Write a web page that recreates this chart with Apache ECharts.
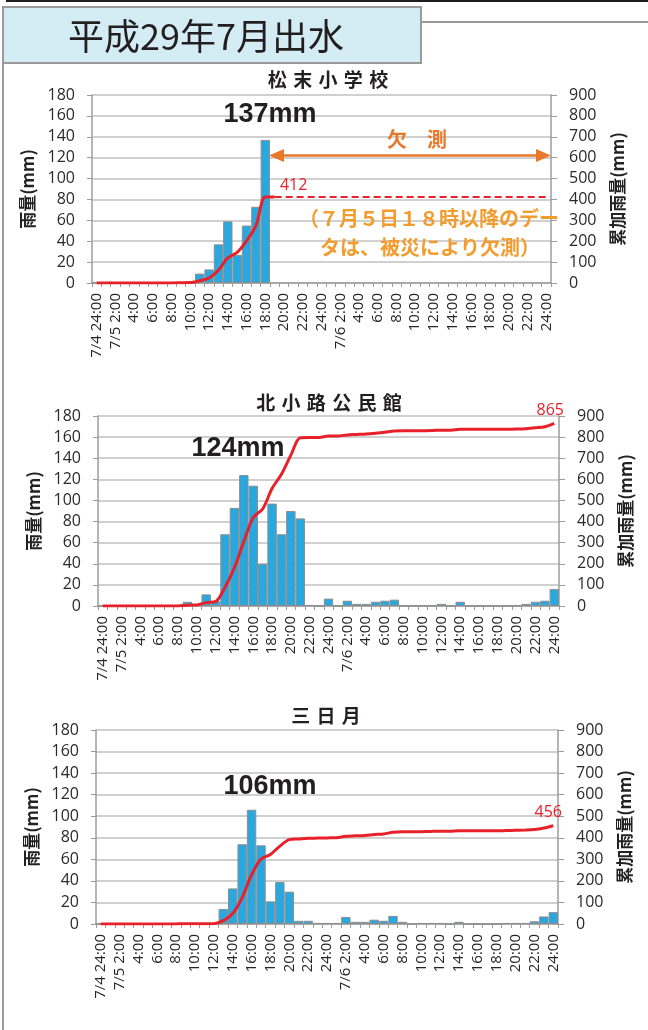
<!DOCTYPE html>
<html>
<head>
<meta charset="utf-8">
<script src="https://cdn.jsdelivr.net/npm/echarts/dist/echarts.min.js"></script>
<style>
html, body { margin: 0; padding: 0; background: #fff; }
#chart { width: 648px; height: 1030px; }
</style>
</head>
<body>
<div id="chart"></div>
<script>
// Hourly categories, 7/4 24:00 through 7/6 24:00
const categories = [
  '7/4 24:00',
  '7/5 1:00','7/5 2:00','7/5 3:00','7/5 4:00','7/5 5:00','7/5 6:00','7/5 7:00','7/5 8:00',
  '7/5 9:00','7/5 10:00','7/5 11:00','7/5 12:00','7/5 13:00','7/5 14:00','7/5 15:00','7/5 16:00',
  '7/5 17:00','7/5 18:00','7/5 19:00','7/5 20:00','7/5 21:00','7/5 22:00','7/5 23:00','7/5 24:00',
  '7/6 1:00','7/6 2:00','7/6 3:00','7/6 4:00','7/6 5:00','7/6 6:00','7/6 7:00','7/6 8:00',
  '7/6 9:00','7/6 10:00','7/6 11:00','7/6 12:00','7/6 13:00','7/6 14:00','7/6 15:00','7/6 16:00',
  '7/6 17:00','7/6 18:00','7/6 19:00','7/6 20:00','7/6 21:00','7/6 22:00','7/6 23:00','7/6 24:00'
];

// Labels shown on every second hour
const tickLabels = [
  '7/4 24:00','7/5 2:00','4:00','6:00','8:00','10:00','12:00','14:00','16:00','18:00','20:00','22:00','24:00',
  '7/6 2:00','4:00','6:00','8:00','10:00','12:00','14:00','16:00','18:00','20:00','22:00','24:00'
];

const leftTicks = { min: 0, max: 180, interval: 20 };
const rightTicks = { min: 0, max: 900, interval: 100 };

// 松末小学校 : hourly rainfall (mm); no data after 7/5 18:00
const rainMatsusue = [
  0,0,0,0,0,0,0,0,0,1,
  1,9,13,37,59,27,55,73,137,null,
  null,null,null,null,null,null,null,null,null,null,
  null,null,null,null,null,null,null,null,null,null,
  null,null,null,null,null,null,null,null,null
];
// 松末小学校 : cumulative rainfall (mm)
const cumMatsusue = [
  0,0,0,0,0,0,0,0,0,1,
  2,11,24,61,120,147,202,275,412,412,
  null,null,null,null,null,null,null,null,null,null,
  null,null,null,null,null,null,null,null,null,null,
  null,null,null,null,null,null,null,null,null
];
// 松末小学校 : last recorded total carried across the missing period
const cumMatsusueMissing = [
  null,null,null,null,null,null,null,null,null,null,
  null,null,null,null,null,null,null,null,null,412,
  412,412,412,412,412,412,412,412,412,412,
  412,412,412,412,412,412,412,412,412,412,
  412,412,412,412,412,412,412,412,412
];

// 北小路公民館 : hourly rainfall (mm)
const rainKitakoji = [
  0,0,0,0,0,0,0,0,0,4,
  1,11,4.5,68,93,124,114,40,97,68,
  90,83,1,0,7,0,5,2,2,4,
  5,6,0.5,0,0.5,0.5,2,0,4,0,
  0,0,0,0.5,0.5,2,4,5,16
];
// 北小路公民館 : cumulative rainfall (mm)
const cumKitakoji = [
  0,0,0,0,0,0,0,0,0,4,
  5,16,20.5,88.5,181.5,305.5,419.5,459.5,556.5,624.5,
  714.5,797.5,798.5,798.5,805.5,805.5,810.5,812.5,814.5,818.5,
  823.5,829.5,830,830,830.5,831,833,833,837,837,
  837,837,837,837.5,838,840,844,849,865
];

// 三日月 : hourly rainfall (mm)
const rainMikazuki = [
  0,0,0,0,0,0,0,0,0.5,0.5,
  0,0,0.5,14,33,74,106,73,21,39,
  30,3,3,1,1,1,6.5,2,2,4,
  3,7.5,2,0,1,1,1,0,2,0,
  0,0,0,1,1,1,2.5,7,11
];
// 三日月 : cumulative rainfall (mm)
const cumMikazuki = [
  0,0,0,0,0,0,0,0,0.5,1,
  1,1,1.5,15.5,48.5,122.5,228.5,301.5,322.5,361.5,
  391.5,394.5,397.5,398.5,399.5,400.5,407,409,411,415,
  418,425.5,427.5,427.5,428.5,429.5,430.5,430.5,432.5,432.5,
  432.5,432.5,432.5,433.5,434.5,435.5,438,445,456
];

const stations = ['松末小学校', '北小路公民館', '三日月'];

const NUM_FONT = '"Open Sans", "Noto Sans CJK JP", sans-serif';
const JP_FONT = '"Noto Sans CJK JP", "Noto Sans", sans-serif';
const RED = '#E8202A';
const BAR = '#29A8E0';
const GRID_COLOR = '#c0c0c0';
const AXIS_COLOR = '#9c9c9c';

const grids = [
  { left: 92, top: 95, width: 459, height: 188 },
  { left: 98, top: 416, width: 461, height: 190 },
  { left: 96, top: 730, width: 462, height: 194 }
];

function xAxisFor(i) {
  return {
    type: 'category', gridIndex: i, data: categories, boundaryGap: true,
    axisLine: { lineStyle: { color: AXIS_COLOR, width: 1.5 } },
    axisTick: { show: true, interval: 0, length: 4, lineStyle: { color: AXIS_COLOR } },
    axisLabel: {
      interval: 1, rotate: 90, margin: 10, fontSize: 15, color: '#262626', fontFamily: NUM_FONT,
      formatter: (v, idx) => tickLabels[idx / 2]
    }
  };
}

function leftAxisFor(i) {
  return Object.assign({
    type: 'value', gridIndex: i, position: 'left',
    name: '雨量(mm)', nameLocation: 'middle', nameGap: 56, nameRotate: 90,
    nameTextStyle: { fontFamily: JP_FONT, fontWeight: 'bold', fontSize: 17, color: '#222' },
    axisLine: { show: true, lineStyle: { color: AXIS_COLOR, width: 1.5 } },
    axisTick: { show: true, length: 5, lineStyle: { color: AXIS_COLOR } },
    axisLabel: { fontSize: 16, color: '#2a2a2a', margin: 17, fontFamily: NUM_FONT },
    splitLine: { show: true, lineStyle: { color: GRID_COLOR, width: 1.5 } }
  }, leftTicks);
}

function rightAxisFor(i) {
  return Object.assign({
    type: 'value', gridIndex: i, position: 'right',
    name: '累加雨量(mm)', nameLocation: 'middle', nameGap: 58, nameRotate: 90,
    nameTextStyle: { fontFamily: JP_FONT, fontWeight: 'bold', fontSize: 17, color: '#222' },
    axisLine: { show: true, lineStyle: { color: AXIS_COLOR, width: 1.5 } },
    axisTick: { show: true, length: 6, lineStyle: { color: AXIS_COLOR } },
    axisLabel: { fontSize: 16, color: '#2a2a2a', margin: 18, fontFamily: NUM_FONT },
    splitLine: { show: false }
  }, rightTicks);
}

function barSeries(i, data) {
  return {
    type: 'bar', xAxisIndex: i, yAxisIndex: 2 * i, data: data,
    barCategoryGap: '0%', barGap: '0%',
    itemStyle: { color: BAR, borderColor: '#8d8d8d', borderWidth: 1 },
    z: 2
  };
}

function totalLabel(i, data, idx, offset) {
  return {
    symbol: 'circle', symbolSize: 0,
    label: { show: true, position: 'top', formatter: '{c}', color: RED, fontSize: 16, fontFamily: NUM_FONT, offset: offset },
    data: [{ coord: [idx, data[idx]], value: data[idx] }]
  };
}

function cumSeries(i, data, markPoint, extra) {
  return Object.assign({
    type: 'line', xAxisIndex: i, yAxisIndex: 2 * i + 1, data: data,
    smooth: 0.3, symbol: 'none', connectNulls: false,
    lineStyle: { color: RED, width: 3 },
    markPoint: markPoint,
    z: 5
  }, extra || {});
}

const rains = [rainMatsusue, rainKitakoji, rainMikazuki];
const peak = r => Math.max.apply(null, r.filter(v => v !== null));

const spaced = s => s.split('').join('\u2004');
const titleCenters = [[328, 80], [329, 403], [326, 716]];
const peakCenters = [[270, 115], [238, 449], [270, 787]];

const graphics = [
  // page frame and heading
  { type: 'line', shape: { x1: 3, y1: 60, x2: 3, y2: 1030 }, style: { stroke: '#9a9a9a', lineWidth: 2 } },
  { type: 'line', shape: { x1: 6, y1: 1, x2: 648, y2: 1 }, style: { stroke: '#1e1e1e', lineWidth: 2 } },
  { type: 'line', shape: { x1: 420, y1: 22, x2: 648, y2: 22 }, style: { stroke: '#9a9a9a', lineWidth: 2 } },
  { type: 'rect', shape: { x: 3, y: 7, width: 418, height: 56 }, style: { fill: '#D4EDF4', stroke: '#9a9a9a', lineWidth: 2 } },
  { type: 'text', style: { text: '平成29年7月出水', x: 206, y: 36, font: '36px ' + JP_FONT, fill: '#231F20',
      align: 'center', verticalAlign: 'middle', textAlign: 'center', textVerticalAlign: 'middle' } }
];

stations.forEach((name, i) => {
  graphics.push({ type: 'text', style: { text: spaced(name), x: titleCenters[i][0], y: titleCenters[i][1],
    font: 'bold 19px ' + JP_FONT, fill: '#231F20',
    align: 'center', verticalAlign: 'middle', textAlign: 'center', textVerticalAlign: 'middle' } });
  graphics.push({ type: 'text', z: 10, style: { text: peak(rains[i]) + 'mm', x: peakCenters[i][0], y: peakCenters[i][1],
    font: 'bold 27px "Liberation Sans", Arial, sans-serif', fill: '#231F20',
    align: 'center', verticalAlign: 'middle', textAlign: 'center', textVerticalAlign: 'middle' } });
});

// missing-data note on the first panel
const ORANGE = '#E8792B';
const ORANGE_LIGHT = '#F39C2E';
graphics.push(
  { type: 'line', shape: { x1: 281, y1: 155.5, x2: 540, y2: 155.5 }, style: { stroke: ORANGE, lineWidth: 2.5 }, z: 10 },
  { type: 'polygon', shape: { points: [[269, 155.5], [284, 149], [284, 162]] }, style: { fill: ORANGE }, z: 10 },
  { type: 'polygon', shape: { points: [[551, 155.5], [536, 149], [536, 162]] }, style: { fill: ORANGE }, z: 10 },
  { type: 'text', z: 10, style: { text: '欠　測', x: 417, y: 139, font: 'bold 20px ' + JP_FONT, fill: ORANGE,
      align: 'center', verticalAlign: 'middle', textAlign: 'center', textVerticalAlign: 'middle' } },
  { type: 'text', z: 10, style: { text: '（７月５日１８時以降のデー', x: 299, y: 218, font: 'bold 20px ' + JP_FONT, fill: ORANGE_LIGHT,
      align: 'left', verticalAlign: 'middle', textAlign: 'left', textVerticalAlign: 'middle' } },
  { type: 'text', z: 10, style: { text: 'タは、被災により欠測）', x: 430, y: 247, font: 'bold 20px ' + JP_FONT, fill: ORANGE_LIGHT,
      align: 'center', verticalAlign: 'middle', textAlign: 'center', textVerticalAlign: 'middle' } }
);

const option = {
  backgroundColor: '#fff',
  animation: false,
  grid: grids,
  xAxis: [xAxisFor(0), xAxisFor(1), xAxisFor(2)],
  yAxis: [leftAxisFor(0), rightAxisFor(0), leftAxisFor(1), rightAxisFor(1), leftAxisFor(2), rightAxisFor(2)],
  series: [
    barSeries(0, rainMatsusue),
    cumSeries(0, cumMatsusue, totalLabel(0, cumMatsusue, 19, [19, 1])),
    cumSeries(0, cumMatsusueMissing, undefined, { smooth: false, lineStyle: { color: RED, width: 2, type: [7, 4] } }),
    barSeries(1, rainKitakoji),
    cumSeries(1, cumKitakoji, totalLabel(1, cumKitakoji, 48, [-4, 0])),
    barSeries(2, rainMikazuki),
    cumSeries(2, cumMikazuki, totalLabel(2, cumMikazuki, 48, [-5, 0]))
  ],
  graphic: graphics
};

const chart = echarts.init(document.getElementById('chart'), null, { renderer: 'canvas' });
chart.setOption(option);
</script>
</body>
</html>
